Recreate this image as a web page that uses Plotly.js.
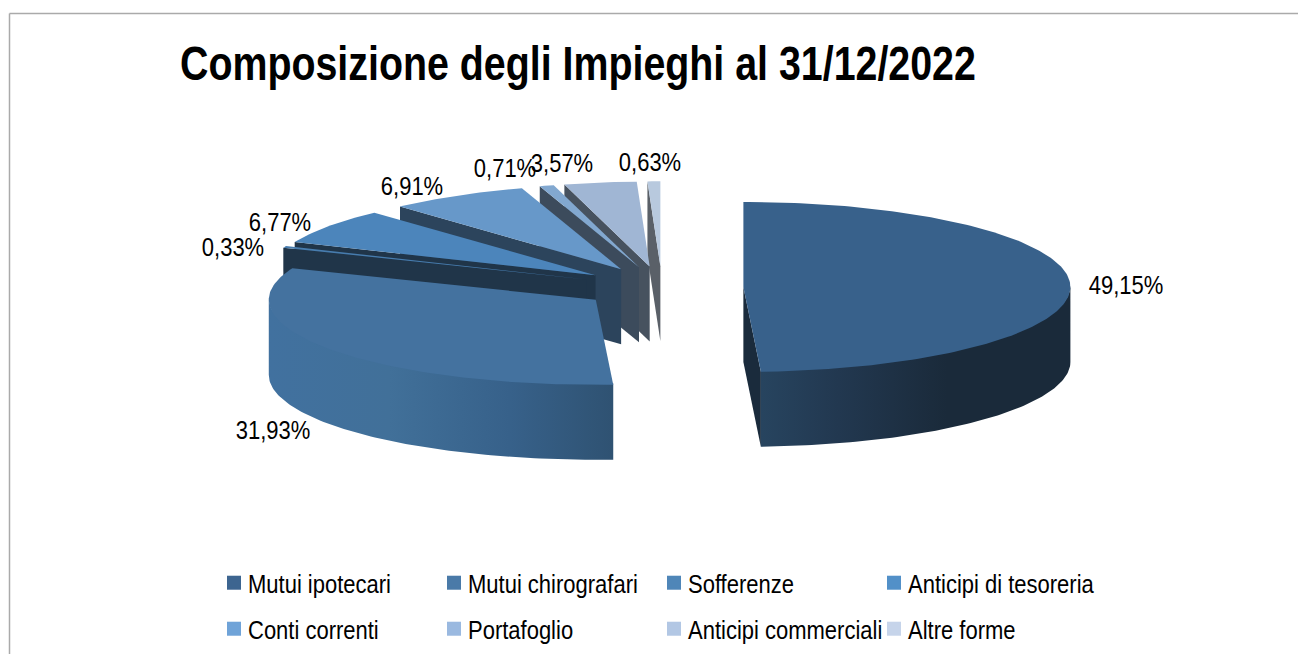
<!DOCTYPE html>
<html><head><meta charset="utf-8">
<script src="https://cdn.plot.ly/plotly-3.0.1.min.js"></script>
<style>html,body{margin:0;padding:0;background:#fff;overflow:hidden}#c{width:1298px;height:654px}
.legendsymbols{transform:translate(6px,0)}
.gtitle{transform-box:fill-box;transform-origin:0 50%;transform:scaleX(.82)}
.legendtext,.legend2text{transform-box:fill-box;transform-origin:0 50%;transform:scaleX(.83)}
.textpoint text{transform-box:fill-box;transform-origin:50% 50%;transform:scaleX(.83)}
</style>
</head><body><div id="c"></div>
<script>
const categories = ["Mutui ipotecari","Mutui chirografari","Sofferenze","Anticipi di tesoreria","Conti correnti","Portafoglio","Anticipi commerciali","Altre forme"];
const shares = [49.15,31.93,0.33,6.77,6.91,0.71,3.57,0.63];
const topColors = ["#38618b","#44729f","#477cae","#4c85bb","#6798c9","#82a8d0","#a0b6d4","#b8c9de"];
const faceColors = ["#1a2b3c","#203549","#203549","#203549","#2c445c","#3c4b5c","#47525f","#5a6068"];
const legendColors = ["#3d6590","#4a7aa8","#4f86b8","#5290c8","#6fa3d8","#9ab9e0","#b2c7e4","#c6d4ea"];
const wallScales = [
  [[0,"#27445f"],[0.25,"#223850"],[0.6,"#1a2a3a"],[1,"#1a2a3a"]],
  [[0,"#41719f"],[0.35,"#417099"],[0.7,"#37618a"],[1,"#2f5272"]]
];
const labelSpots = [[1126,287],[273,432],[233,249],[280,224],[412,188],[505,170],[562,165],[650,164]];

const cx=662, cy=287.5, rx=327, ry=85, depth=75, explode=0.249;
const rad=d=>d*Math.PI/180;
const traces=[];
const total=shares.reduce((a,b)=>a+b,0);
let acc=0;
const slices=shares.map((v,i)=>{const a=acc/total*360;acc+=v;const b=acc/total*360;const m=(a+b)/2;
  return {i,a,b,ox:cx+explode*rx*Math.sin(rad(m)),oy:cy-explode*ry*Math.cos(rad(m))};});
const P=(s,a,dz=0)=>[s.ox+rx*Math.sin(rad(a)),s.oy-ry*Math.cos(rad(a))+dz];
const arc=(s,a,b,dz=0)=>{const o=[];const n=Math.max(2,Math.ceil(Math.abs(b-a)));for(let j=0;j<=n;j++)o.push(P(s,a+(b-a)*j/n,dz));return o;};
const poly=(pts,extra)=>Object.assign({x:pts.map(p=>p[0]),y:pts.map(p=>p[1]),type:'scatter',mode:'lines',fill:'toself',line:{width:0},hoverinfo:'skip',showlegend:false},extra);

[...slices].reverse().forEach(s=>{
  const col=faceColors[s.i];
  if(Math.sin(rad(s.a))<-1e-6){const c=P(s,s.a);const o=[s.ox,s.oy];
    traces.push(poly([o,c,[c[0],c[1]+depth],[o[0],o[1]+depth]],{fillcolor:col}));}
  if(Math.sin(rad(s.b))>1e-6){const c=P(s,s.b);const o=[s.ox,s.oy];
    traces.push(poly([o,c,[c[0],c[1]+depth],[o[0],o[1]+depth]],{fillcolor:col}));}
  const wa=Math.max(s.a,90), wb=Math.min(s.b,270);
  if(wb>wa){
    const front=arc(s,wa,wb,-1.5), back=arc(s,wb,wa,depth);
    traces.push(poly(front.concat(back),{fillgradient:{type:'horizontal',colorscale:wallScales[s.i]||[[0,col],[1,col]]}}));
  }
  traces.push(poly([[s.ox,s.oy]].concat(arc(s,s.a,s.b)),{fillcolor:topColors[s.i]}));
});

shares.forEach((v,i)=>{
  traces.push({x:[labelSpots[i][0]],y:[labelSpots[i][1]],type:'scatter',mode:'text',text:[v.toFixed(2).replace('.',',')+'%'],textposition:'middle center',textfont:{family:'Liberation Sans',size:26.5,color:'#000'},hoverinfo:'skip',showlegend:false});
});
categories.forEach((name,i)=>{
  traces.push({x:[null],y:[null],type:'scatter',mode:'markers',name,marker:{symbol:'square',size:14,color:legendColors[i]},legend:i<4?'legend':'legend2',showlegend:true});
});
const legendBase={orientation:'h',xanchor:'left',yanchor:'middle',entrywidth:189,entrywidthmode:'pixels',itemwidth:30,indentation:-14,bgcolor:'rgba(0,0,0,0)',font:{family:'Liberation Sans',size:26.5,color:'#000'}};
const layout={
  width:1298,height:654,margin:{l:0,r:0,t:0,b:0},paper_bgcolor:'#fff',plot_bgcolor:'#fff',
  xaxis:{range:[0,1298],visible:false,fixedrange:true},
  yaxis:{range:[654,0],visible:false,fixedrange:true},
  title:{text:'<b>Composizione degli Impieghi al 31/12/2022</b>',x:180/1298,xanchor:'left',xref:'paper',y:1-63/654,yanchor:'middle',yref:'container',font:{family:'Liberation Sans',size:48,color:'#000'}},
  legend:Object.assign({},legendBase,{x:222/1298,y:1-583/654}),
  legend2:Object.assign({},legendBase,{x:222/1298,y:1-629/654}),
  shapes:[{type:'line',xref:'x',yref:'y',x0:9.5,x1:1298,y0:13.5,y1:13.5,line:{color:'#aaaaaa',width:1.5}},
          {type:'line',xref:'x',yref:'y',x0:9.5,x1:9.5,y0:13.5,y1:654,line:{color:'#aaaaaa',width:1.5}}]
};
Plotly.newPlot('c',traces,layout,{displayModeBar:false,staticPlot:true});
</script></body></html>
